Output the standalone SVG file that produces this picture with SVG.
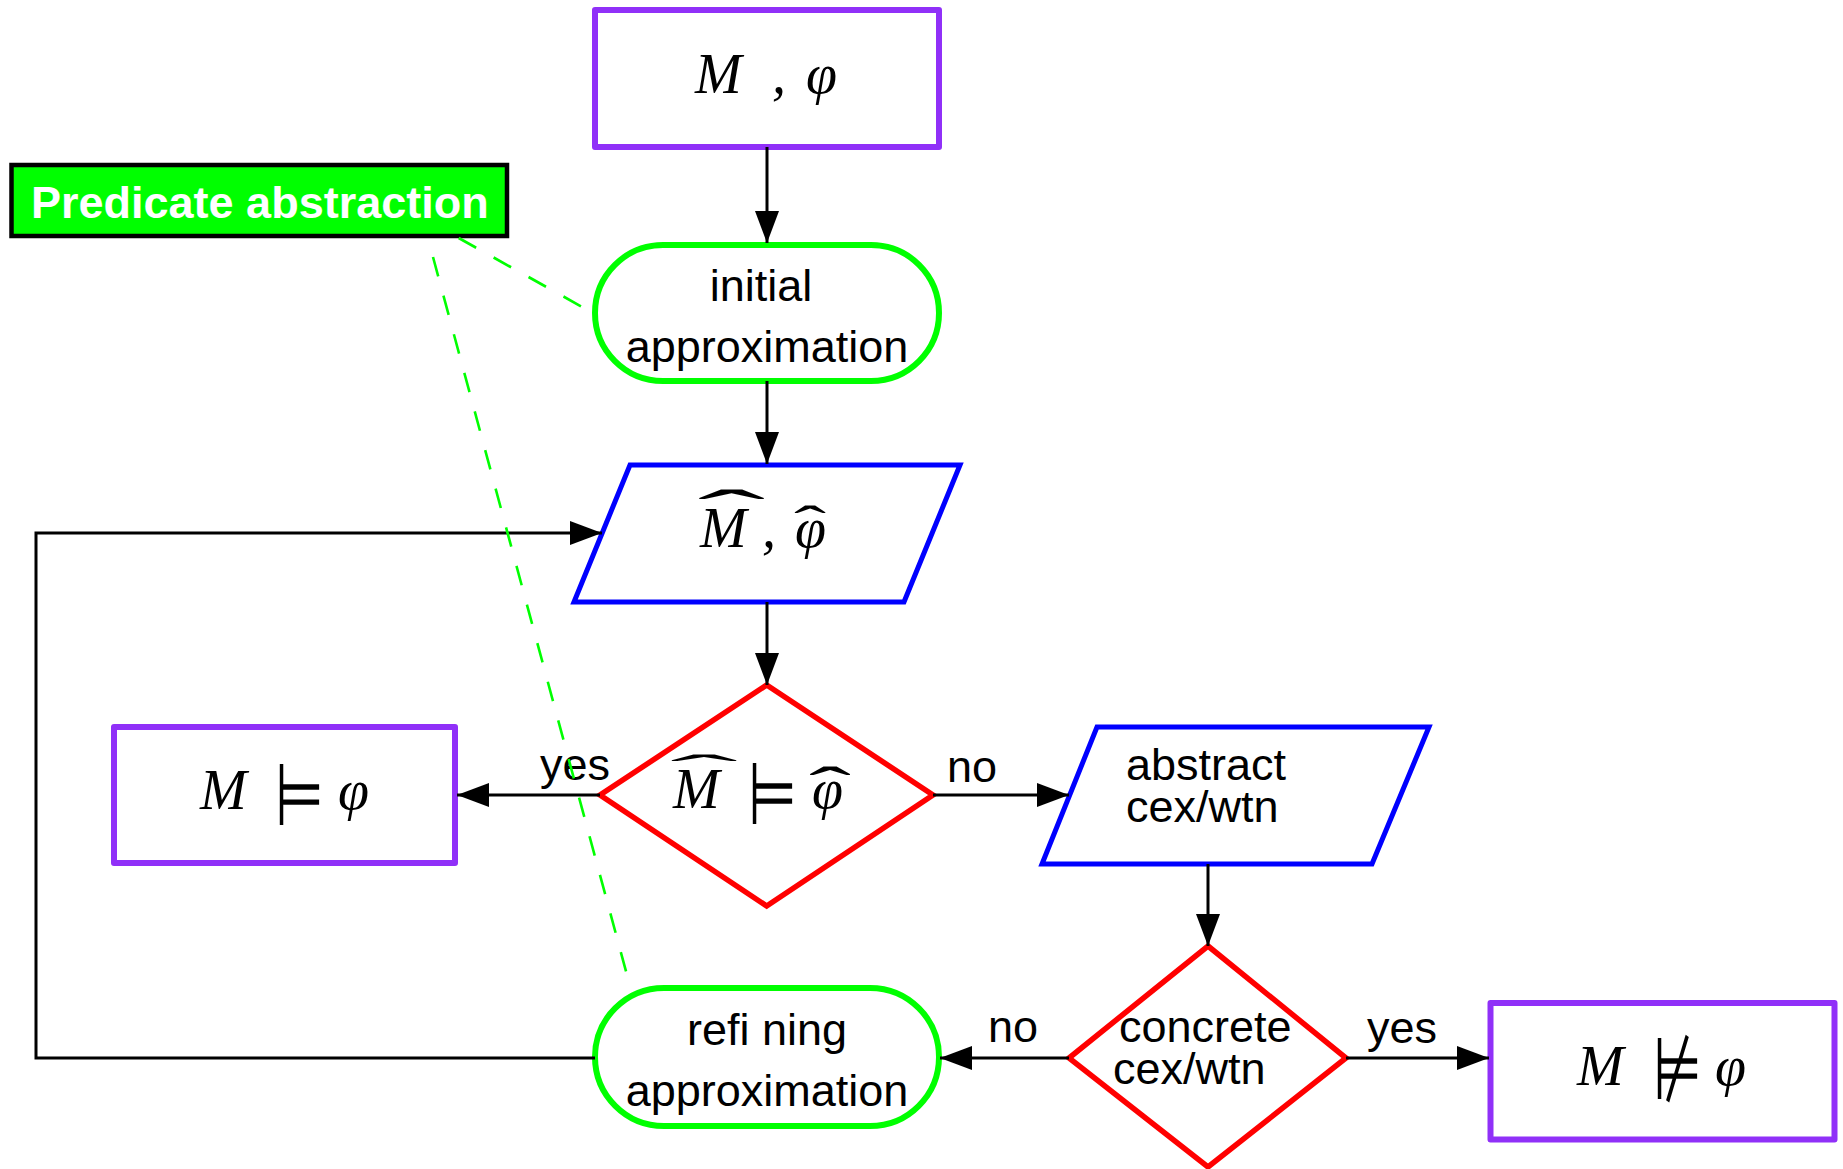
<svg xmlns="http://www.w3.org/2000/svg" width="1843" height="1169" viewBox="0 0 1843 1169">
<defs>
<style>
.lbl{font-family:"Liberation Sans",Arial,sans-serif;font-size:45px;fill:#000}
.math{font-family:"Liberation Serif","Times New Roman",serif;font-style:italic;font-size:56px;fill:#000}
.sym{font-family:"DejaVu Sans",sans-serif;font-style:normal;font-weight:200;font-size:56px;fill:#000}
.hat{font-family:"Liberation Serif","Times New Roman",serif;font-size:56px;fill:#000;text-anchor:middle}
.purple{fill:#fff;stroke:#9030f8;stroke-width:6;stroke-linejoin:round}
.term{fill:#fff;stroke:#00ff00;stroke-width:6}
.io{fill:#fff;stroke:#0000ff;stroke-width:5}
.dec{fill:#fff;stroke:#ff0000;stroke-width:5.5}
.conn{stroke:#000;stroke-width:3;fill:none}
.note{stroke:#00ff00;stroke-width:2.6;stroke-dasharray:20 20;fill:none}
</style>
<marker id="ah" markerWidth="32" markerHeight="24" refX="32" refY="12" orient="auto" markerUnits="userSpaceOnUse">
<path d="M0,0 L32,12 L0,24 z" fill="#000"/>
</marker>
</defs>
<rect width="1843" height="1169" fill="#fff"/>

<g id="nodes">
<g id="start">
<rect class="purple" x="595" y="10" width="344" height="137"/>
<text class="math" y="93"><tspan x="695">M</tspan><tspan x="772">,</tspan><tspan x="806">φ</tspan></text>
</g>
<g id="initial">
<rect class="term" x="595" y="245" width="344" height="136" rx="68"/>
<text class="lbl" x="761" y="301" text-anchor="middle">initial</text>
<text class="lbl" x="767" y="362" text-anchor="middle">approximation</text>
</g>
<g id="abstract-model">
<polygon class="io" points="630,465 960,465 904,602 574,602"/>
<text class="math" y="547"><tspan x="700">M</tspan><tspan x="762">,</tspan><tspan x="795">φ</tspan></text>
<text class="hat" transform="translate(731.5,534) scale(3.64,1.12)">ˆ</text>
<text class="hat" transform="translate(810,540.7) scale(1.72,0.9)">ˆ</text>
</g>
<g id="check">
<polygon class="dec" points="766.7,685 933,795 766.7,906 600,795"/>
<text class="math" x="673" y="808">M</text>
<text class="sym" transform="translate(748,824) scale(1,1.55)">⊨</text>
<text class="math" x="812" y="808">φ</text>
<text class="hat" transform="translate(704,784.6) scale(3.64,0.79)">ˆ</text>
<text class="hat" transform="translate(830,805.5) scale(2.25,1)">ˆ</text>
</g>
<g id="holds">
<rect class="purple" x="114" y="727" width="341" height="136"/>
<text class="math" x="200" y="809">M</text>
<text class="sym" transform="translate(275,824.5) scale(1,1.55)">⊨</text>
<text class="math" x="338" y="809">φ</text>
</g>
<g id="abstract-cex">
<polygon class="io" points="1097,727 1429,727 1372,864 1042,864"/>
<text class="lbl" x="1126" y="780">abstract</text>
<text class="lbl" x="1126" y="822">cex/wtn</text>
</g>
<g id="concrete">
<polygon class="dec" points="1208,946 1346,1058 1208,1167 1069,1058"/>
<text class="lbl" x="1119" y="1042">concrete</text>
<text class="lbl" x="1113" y="1084">cex/wtn</text>
</g>
<g id="fails">
<rect class="purple" x="1490.5" y="1003" width="344" height="136.5"/>
<text class="math" x="1577" y="1085">M</text>
<text class="sym" transform="translate(1653,1098.6) scale(1,1.55)">⊭</text>
<text class="math" x="1715" y="1085">φ</text>
</g>
<g id="refining">
<rect class="term" x="595" y="988" width="344" height="138" rx="69"/>
<text class="lbl" x="767" y="1045" text-anchor="middle">refi ning</text>
<text class="lbl" x="767" y="1106" text-anchor="middle">approximation</text>
</g>
<g id="predicate-abstraction">
<rect x="11.5" y="165" width="495.5" height="71" fill="#00ff00" stroke="#000" stroke-width="4.5"/>
<text x="31" y="218" font-family="Liberation Sans, Arial, sans-serif" font-weight="bold" font-size="45" fill="#fff">Predicate abstraction</text>
</g>
</g>

<g id="connectors">
<line class="conn" x1="767" y1="147" x2="767" y2="243" marker-end="url(#ah)"/>
<line class="conn" x1="767" y1="381" x2="767" y2="464" marker-end="url(#ah)"/>
<line class="conn" x1="767" y1="602" x2="767" y2="685" marker-end="url(#ah)"/>
<line class="conn" x1="600" y1="795" x2="457" y2="795" marker-end="url(#ah)"/>
<line class="conn" x1="933" y1="795" x2="1069" y2="795" marker-end="url(#ah)"/>
<line class="conn" x1="1208" y1="864" x2="1208" y2="946" marker-end="url(#ah)"/>
<line class="conn" x1="1069" y1="1058" x2="940" y2="1058" marker-end="url(#ah)"/>
<line class="conn" x1="1346" y1="1058" x2="1489" y2="1058" marker-end="url(#ah)"/>
<path class="conn" d="M595,1058 H36 V533 H602" marker-end="url(#ah)"/>
<text class="lbl" x="540" y="780">yes</text>
<text class="lbl" x="947" y="782">no</text>
<text class="lbl" x="988" y="1042">no</text>
<text class="lbl" x="1367" y="1043">yes</text>
</g>

<g id="annotation">
<line class="note" x1="458.7" y1="238" x2="593" y2="313"/>
<line class="note" x1="433" y1="257" x2="627" y2="975"/>
</g>
</svg>
